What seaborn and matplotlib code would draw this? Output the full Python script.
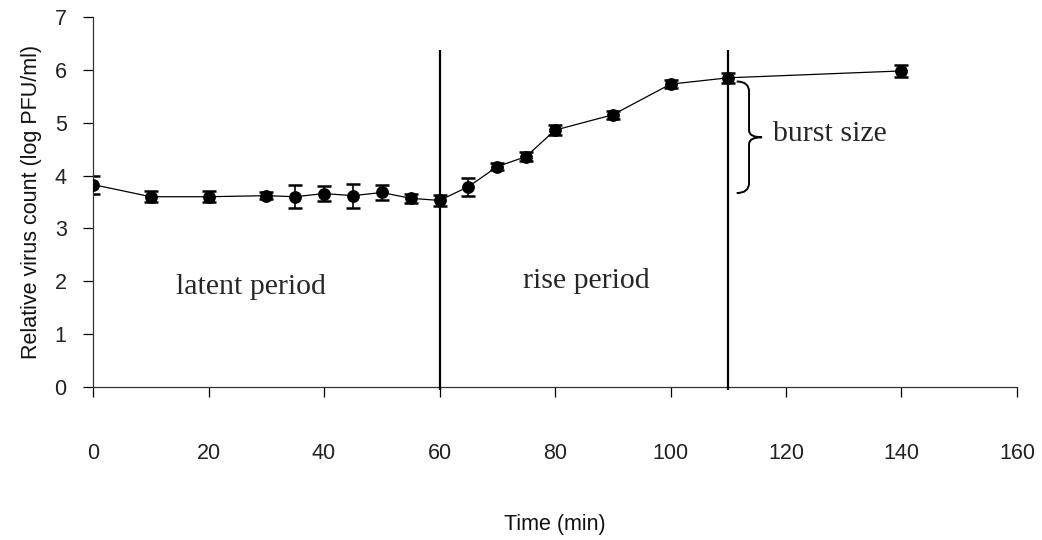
import matplotlib
matplotlib.use("Agg")
import matplotlib.pyplot as plt
from matplotlib.path import Path
from matplotlib.patches import PathPatch
import seaborn as sns
import pandas as pd

# ---- data ----
times = [0, 10, 20, 30, 35, 40, 45, 50, 55, 60, 65, 70, 75, 80, 90, 100, 110, 140]
log_pfu = [3.83, 3.60, 3.60, 3.62, 3.60, 3.66, 3.62, 3.68, 3.57, 3.53,
           3.79, 4.17, 4.36, 4.86, 5.15, 5.73, 5.85, 5.98]
err = [0.17, 0.10, 0.10, 0.07, 0.22, 0.14, 0.23, 0.15, 0.09, 0.11,
       0.17, 0.07, 0.08, 0.10, 0.08, 0.08, 0.10, 0.11]
phase_boundaries = [60, 110]
x_ticks = [0, 20, 40, 60, 80, 100, 120, 140, 160]
y_ticks = [0, 1, 2, 3, 4, 5, 6, 7]
annotations = [("latent period", 27.4, 1.89), ("rise period", 85.4, 2.0)]
burst_label = ("burst size", 117.8, 4.79)
burst_range = (3.67, 5.78)

df = pd.DataFrame({"time": times, "count": log_pfu, "err": err})

sns.set_theme(style="ticks")
plt.rcParams["font.family"] = ["Liberation Sans", "DejaVu Sans"]

fig = plt.figure(figsize=(10.42, 5.40), dpi=100)
ax = fig.add_axes([0.0893, 0.2833, 0.976 - 0.0893, 0.9685 - 0.2833])

ax.errorbar(df["time"], df["count"], yerr=df["err"], fmt="none",
            ecolor="black", elinewidth=1.2, capsize=5, capthick=1.8, zorder=2)
sns.lineplot(data=df, x="time", y="count", ax=ax, color="black",
             linewidth=0.9, zorder=3)
sns.scatterplot(data=df, x="time", y="count", ax=ax, color="black",
                s=85, edgecolor="black", linewidth=0, zorder=4)

top_v = 6.38
ax.vlines(phase_boundaries, -0.05, top_v, colors="black", linewidth=1.6,
          clip_on=False, zorder=5)

for txt, x, y in annotations:
    ax.text(x, y, txt, ha="center", va="center", fontsize=21.5,
            family=["Liberation Serif", "DejaVu Serif"])
ax.text(burst_label[1], burst_label[2], burst_label[0], ha="left",
        va="center", fontsize=21.5, family=["Liberation Serif", "DejaVu Serif"])

# curly brace for burst size
lo, hi = burst_range
mid = (lo + hi) / 2
x0, x1, x2 = 111.46, 113.6, 115.85
verts = [(x0, hi), (x1, hi), (x1, hi - 0.19),
         (x1, mid + 0.13),
         (x1, mid), (x2, mid),
         (x1, mid), (x1, mid - 0.13),
         (x1, lo + 0.19),
         (x1, lo), (x0, lo)]
codes = [Path.MOVETO, Path.CURVE3, Path.CURVE3,
         Path.LINETO,
         Path.CURVE3, Path.CURVE3,
         Path.CURVE3, Path.CURVE3,
         Path.LINETO,
         Path.CURVE3, Path.CURVE3]
ax.add_patch(PathPatch(Path(verts, codes), facecolor="none",
                       edgecolor="black", linewidth=1.4, zorder=5))

ax.set_xlim(0, 160)
ax.set_ylim(0, 7)
ax.set_xticks(x_ticks)
ax.set_yticks(y_ticks)
ax.set_xticklabels([str(t) for t in x_ticks])
ax.set_yticklabels([str(t) for t in y_ticks])
ax.tick_params(axis="x", direction="out", length=7, width=0.9, pad=33,
               labelsize=15.5, colors="black", labelcolor="#222222")
ax.tick_params(axis="y", direction="out", length=7, width=0.9, pad=12,
               labelsize=15.5, colors="black", labelcolor="#222222")
for side in ["top", "right"]:
    ax.spines[side].set_visible(False)
for side in ["left", "bottom"]:
    ax.spines[side].set_color("#333333")
    ax.spines[side].set_linewidth(0.9)

ax.set_xlabel("Time (min)", fontsize=15.5, labelpad=36, color="#111111")
ax.set_ylabel("Relative virus count (log PFU/ml)", fontsize=15.5,
              labelpad=9, color="#111111")

fig.savefig("out.png", dpi=100)
